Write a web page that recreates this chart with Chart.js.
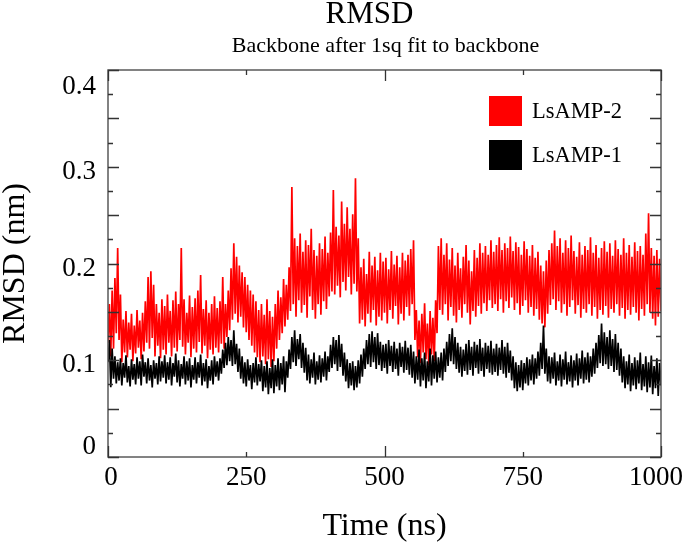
<!DOCTYPE html>
<html>
<head>
<meta charset="utf-8">
<script src="https://cdn.jsdelivr.net/npm/chart.js@4/dist/chart.umd.min.js"></script>
<style>
html,body{margin:0;padding:0;background:#fff;}
#wrap{width:685px;height:547px;}
canvas{display:block;}
</style>
</head>
<body>
<div id="wrap"><canvas id="c" width="685" height="547"></canvas></div>
<script>
const chartTitle = 'RMSD';
const chartSubtitle = 'Backbone after 1sq fit to backbone';
const xAxisTitle = 'Time (ns)';
const yAxisTitle = 'RMSD (nm)';
const seriesNames = ['LsAMP-2', 'LsAMP-1'];
const seriesColors = ['#ff0000', '#000000'];
const sampleStep = 2.5; // ns between samples
const xTickValues = [0, 250, 500, 750, 1000];
const xTickLabels = ['0', '250', '500', '750', '1000'];
const yTickValues = [0, 0.1, 0.2, 0.3, 0.4];
const yTickLabels = ['0', '0.1', '0.2', '0.3', '0.4'];

// LsAMP-2 (red), t = 0 .. 1000 ns every 2.5 ns
const lsamp2 = [
0.118,0.158,0.104,0.172,0.112,0.185,0.128,0.216,0.121,0.168, 0.098,0.142,0.108,0.151,0.103,0.139,0.111,0.148,0.099,0.136,
0.107,0.152,0.113,0.141,0.101,0.149,0.109,0.161,0.118,0.186, 0.112,0.192,0.123,0.178,0.104,0.158,0.115,0.149,0.102,0.163,
0.111,0.156,0.106,0.168,0.118,0.151,0.104,0.162,0.113,0.171, 0.109,0.158,0.121,0.216,0.114,0.163,0.106,0.149,0.118,0.167,
0.103,0.155,0.112,0.164,0.108,0.172,0.119,0.188,0.107,0.153, 0.115,0.162,0.102,0.149,0.111,0.158,0.106,0.166,0.113,0.154,
0.108,0.161,0.117,0.186,0.112,0.158,0.124,0.172,0.131,0.195, 0.142,0.221,0.148,0.207,0.139,0.198,0.145,0.191,0.134,0.186,
0.129,0.178,0.121,0.172,0.115,0.168,0.108,0.161,0.103,0.152, 0.098,0.158,0.104,0.147,0.096,0.163,0.101,0.151,0.093,0.145,
0.099,0.158,0.112,0.172,0.121,0.165,0.128,0.184,0.135,0.178, 0.142,0.196,0.151,0.279,0.158,0.226,0.145,0.218,0.162,0.231,
0.149,0.212,0.157,0.224,0.144,0.219,0.166,0.236,0.152,0.214, 0.143,0.208,0.158,0.221,0.147,0.215,0.161,0.228,0.153,0.211,
0.166,0.232,0.171,0.276,0.168,0.238,0.177,0.229,0.165,0.264, 0.181,0.241,0.172,0.258,0.186,0.236,0.168,0.251,0.179,0.288,
0.171,0.226,0.138,0.196,0.142,0.205,0.135,0.189,0.148,0.212, 0.139,0.198,0.152,0.207,0.136,0.193,0.145,0.211,0.141,0.202,
0.149,0.206,0.138,0.194,0.152,0.213,0.143,0.199,0.156,0.208, 0.137,0.196,0.148,0.211,0.141,0.203,0.155,0.209,0.146,0.215,
0.158,0.224,0.121,0.152,0.103,0.141,0.097,0.148,0.108,0.159, 0.101,0.138,0.095,0.151,0.106,0.144,0.099,0.162,0.128,0.218,
0.152,0.226,0.147,0.209,0.158,0.221,0.141,0.204,0.155,0.216, 0.146,0.198,0.139,0.211,0.152,0.195,0.144,0.207,0.158,0.219,
0.149,0.203,0.137,0.192,0.151,0.214,0.145,0.206,0.156,0.221, 0.148,0.211,0.159,0.218,0.151,0.209,0.162,0.224,0.154,0.212,
0.158,0.219,0.151,0.227,0.163,0.214,0.149,0.221,0.161,0.216, 0.154,0.228,0.165,0.213,0.152,0.222,0.159,0.217,0.147,0.209,
0.156,0.223,0.162,0.215,0.149,0.208,0.155,0.219,0.146,0.206, 0.153,0.212,0.142,0.198,0.138,0.192,0.134,0.203,0.148,0.214,
0.157,0.221,0.163,0.234,0.152,0.218,0.161,0.226,0.149,0.211, 0.158,0.224,0.146,0.216,0.155,0.229,0.162,0.213,0.148,0.207,
0.157,0.222,0.144,0.209,0.153,0.218,0.149,0.214,0.158,0.227, 0.146,0.211,0.155,0.219,0.143,0.206,0.152,0.216,0.147,0.223,
0.156,0.212,0.144,0.221,0.153,0.208,0.149,0.224,0.158,0.215, 0.146,0.209,0.154,0.226,0.143,0.211,0.152,0.219,0.147,0.207,
0.155,0.222,0.149,0.213,0.141,0.218,0.153,0.209,0.146,0.231, 0.158,0.252,0.149,0.216,0.143,0.208,0.136,0.214,0.145,0.205,
0.151
];

// LsAMP-1 (black), t = 0 .. 1000 ns every 2.5 ns
const lsamp1 = [
0.098,0.121,0.072,0.112,0.081,0.104,0.076,0.098,0.079,0.102, 0.074,0.097,0.082,0.105,0.077,0.094,0.073,0.101,0.080,0.096,
0.075,0.103,0.081,0.099,0.074,0.106,0.083,0.098,0.076,0.102, 0.079,0.095,0.072,0.100,0.081,0.097,0.075,0.104,0.078,0.099,
0.082,0.105,0.076,0.098,0.080,0.103,0.074,0.097,0.083,0.107, 0.077,0.100,0.073,0.096,0.081,0.104,0.075,0.099,0.079,0.102,
0.072,0.095,0.080,0.103,0.076,0.098,0.082,0.106,0.074,0.097, 0.078,0.101,0.071,0.094,0.079,0.100,0.075,0.104,0.083,0.099,
0.079,0.102,0.086,0.111,0.092,0.118,0.095,0.124,0.099,0.121, 0.094,0.131,0.096,0.117,0.088,0.112,0.081,0.104,0.076,0.098,
0.073,0.101,0.079,0.095,0.070,0.097,0.077,0.103,0.074,0.096, 0.078,0.100,0.068,0.094,0.072,0.099,0.065,0.092,0.071,0.101,
0.066,0.095,0.073,0.102,0.069,0.097,0.075,0.104,0.067,0.099, 0.082,0.111,0.091,0.124,0.098,0.131,0.094,0.122,0.101,0.127,
0.092,0.118,0.087,0.113,0.079,0.106,0.076,0.101,0.082,0.108, 0.075,0.099,0.080,0.105,0.077,0.102,0.083,0.109,0.079,0.104,
0.088,0.116,0.092,0.124,0.096,0.121,0.089,0.126,0.093,0.117, 0.084,0.108,0.078,0.101,0.071,0.097,0.074,0.099,0.069,0.094,
0.072,0.100,0.076,0.106,0.083,0.112,0.091,0.121,0.096,0.127, 0.093,0.130,0.098,0.124,0.091,0.128,0.095,0.119,0.089,0.116,
0.092,0.117,0.086,0.121,0.094,0.115,0.088,0.119,0.091,0.112, 0.084,0.118,0.093,0.114,0.087,0.120,0.090,0.113,0.085,0.116,
0.082,0.109,0.076,0.104,0.080,0.111,0.073,0.102,0.079,0.108, 0.071,0.099,0.078,0.112,0.074,0.105,0.081,0.109,0.077,0.103,
0.082,0.108,0.079,0.112,0.088,0.119,0.094,0.127,0.099,0.133, 0.096,0.124,0.091,0.118,0.087,0.114,0.083,0.111,0.089,0.117,
0.085,0.121,0.090,0.114,0.084,0.119,0.092,0.116,0.086,0.122, 0.089,0.113,0.083,0.118,0.091,0.115,0.087,0.120,0.085,0.112,
0.088,0.117,0.084,0.113,0.090,0.121,0.086,0.114,0.082,0.118, 0.087,0.110,0.079,0.104,0.071,0.098,0.068,0.095,0.072,0.100,
0.069,0.097,0.076,0.103,0.074,0.101,0.079,0.106,0.075,0.102, 0.081,0.109,0.084,0.118,0.091,0.136,0.086,0.112,0.078,0.104,
0.076,0.103,0.081,0.108,0.074,0.099,0.079,0.106,0.073,0.101, 0.080,0.109,0.075,0.098,0.078,0.105,0.072,0.100,0.079,0.107,
0.074,0.102,0.081,0.110,0.076,0.103,0.080,0.108,0.077,0.104, 0.083,0.112,0.086,0.118,0.092,0.126,0.097,0.138,0.094,0.129,
0.096,0.124,0.091,0.131,0.094,0.122,0.088,0.127,0.090,0.118, 0.084,0.112,0.077,0.104,0.071,0.099,0.075,0.106,0.068,0.097,
0.074,0.103,0.070,0.100,0.076,0.108,0.069,0.096,0.073,0.104, 0.067,0.098,0.072,0.105,0.065,0.094,0.071,0.102,0.063,0.097,
0.074
];

const FONT = '"Liberation Serif", "Times New Roman", Times, serif';
const times = lsamp2.map((_, i) => i * sampleStep);
const toPoints = arr => arr.map((v, i) => ({ x: times[i], y: v }));

const framePlugin = {
  id: 'grace_frame',
  afterDraw(chart) {
    const { ctx, chartArea: a, scales } = chart;
    const xs = scales.x, ys = scales.y;
    const cx = (a.left + a.right) / 2;
    ctx.save();
    // titles
    ctx.fillStyle = '#000';
    ctx.textAlign = 'center';
    ctx.textBaseline = 'middle';
    ctx.font = '31px ' + FONT;
    ctx.fillText(chartTitle, cx - 15, 15);
    ctx.font = '22px ' + FONT;
    ctx.fillText(chartSubtitle, cx + 1, 46);
    // frame
    ctx.strokeStyle = '#5a5a5a';
    ctx.lineWidth = 1.5;
    ctx.strokeRect(a.left, a.top, a.right - a.left, a.bottom - a.top);
    // ticks (inward)
    ctx.strokeStyle = '#333';
    ctx.lineWidth = 1.3;
    ctx.beginPath();
    for (let k = 0; k <= 16; k++) {
      const v = k * 0.025;
      const py = Math.round(ys.getPixelForValue(v)) + 0.5;
      const len = (k % 2 === 0) ? 11 : 5;
      ctx.moveTo(a.left, py); ctx.lineTo(a.left + len, py);
      ctx.moveTo(a.right, py); ctx.lineTo(a.right - len, py);
    }
    for (let k = 0; k < xTickValues.length; k++) {
      const v = xTickValues[k];
      const px = Math.round(xs.getPixelForValue(v)) + 0.5;
      const len = (v % 500 === 0) ? 11 : 5;
      ctx.moveTo(px, a.bottom); ctx.lineTo(px, a.bottom - len);
      ctx.moveTo(px, a.top); ctx.lineTo(px, a.top + len);
    }
    ctx.stroke();
    // tick labels
    ctx.fillStyle = '#000';
    ctx.font = '27px ' + FONT;
    ctx.textAlign = 'right';
    ctx.textBaseline = 'middle';
    yTickValues.forEach((v, i) => {
      let py = ys.getPixelForValue(v) + 5;
      py = Math.min(Math.max(py, a.top + 17), a.bottom - 10);
      ctx.fillText(yTickLabels[i], a.left - 12, py);
    });
    ctx.textAlign = 'center';
    xTickValues.forEach((v, i) => {
      let px = xs.getPixelForValue(v);
      px = Math.min(Math.max(px, a.left + 3), a.right - 5);
      ctx.fillText(xTickLabels[i], px, a.bottom + 21);
    });
    // legend
    const boxW = 33, boxH = 30;
    const bx = a.right - 172;
    let by = a.top + 26;
    ctx.font = '22.5px ' + FONT;
    ctx.textAlign = 'left';
    [0, 1].forEach((di) => {
      const ds = chart.data.datasets[di];
      ctx.fillStyle = ds.borderColor;
      ctx.fillRect(bx, by, boxW, boxH);
      ctx.fillStyle = '#000';
      ctx.fillText(ds.label, bx + 43, by + boxH / 2 + 1);
      by += 44;
    });
    ctx.restore();
  }
};

new Chart(document.getElementById('c').getContext('2d'), {
  type: 'line',
  data: {
    datasets: [
      { label: seriesNames[0], data: toPoints(lsamp2), borderColor: seriesColors[0], backgroundColor: seriesColors[0],
        borderWidth: 1.7, pointRadius: 0, fill: false, tension: 0, order: 2 },
      { label: seriesNames[1], data: toPoints(lsamp1), borderColor: seriesColors[1], backgroundColor: seriesColors[1],
        borderWidth: 1.7, pointRadius: 0, fill: false, tension: 0, order: 1 }
    ]
  },
  options: {
    responsive: false,
    animation: false,
    events: [],
    layout: { padding: { top: 70, right: 24, bottom: 0, left: 0 } },
    plugins: {
      legend: { display: false },
      tooltip: { enabled: false },
      title: { display: false },
      subtitle: { display: false }
    },
    scales: {
      x: { type: 'linear', min: 0, max: 1000,
        grid: { display: false }, border: { display: false }, ticks: { display: false },
        title: { display: true, text: xAxisTitle, color: '#000',
          font: { family: FONT, size: 32, weight: 'normal', lineHeight: 1.2 }, padding: { top: 1, bottom: 1 } },
        afterFit: (s) => { s.height = 90; } },
      y: { type: 'linear', min: 0, max: 0.4,
        grid: { display: false }, border: { display: false }, ticks: { display: false },
        title: { display: true, text: yAxisTitle, color: '#000',
          font: { family: FONT, size: 32, weight: 'normal', lineHeight: 1 }, padding: 0 },
        afterFit: (s) => { s.width = 108; } }
    }
  },
  plugins: [framePlugin]
});
</script>
</body>
</html>
